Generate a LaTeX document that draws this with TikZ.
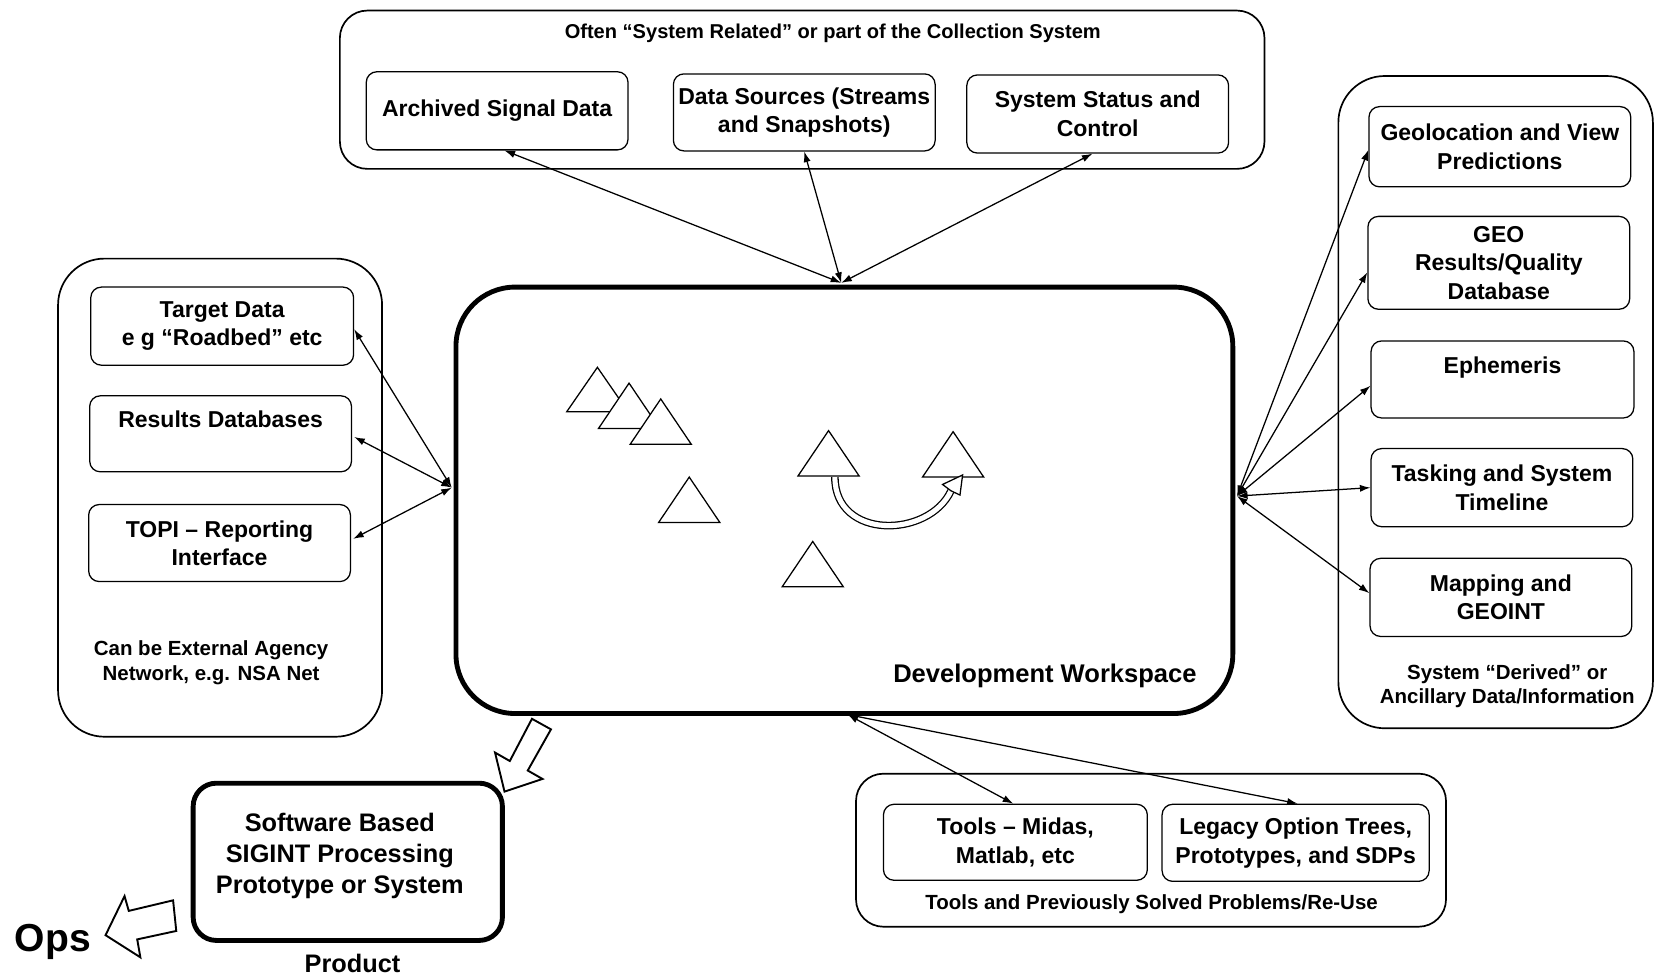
\documentclass[tikz,border=0pt]{standalone}
\usepackage{fontspec}
\setmainfont{Liberation Sans}
\usetikzlibrary{arrows.meta,calc}
\begin{document}
\begin{tikzpicture}[x=0.5pt,y=-0.5pt,
  obox/.style={draw, line width=0.8pt, rounded corners=20pt, inner sep=0pt},
  ibox/.style={draw, line width=0.6pt, rounded corners=5pt, inner sep=0pt, align=center,
     font=\fontsize{10.9}{13.5}\selectfont\bfseries},
  bigbox/.style={draw, line width=2.3pt, rounded corners=28pt, inner sep=0pt},
  capt/.style={align=center, inner sep=0pt, font=\fontsize{9.7}{11.5}\selectfont\bfseries},
  conn/.style={{Latex[length=5pt,width=3.4pt]}-{Latex[length=5pt,width=3.4pt]}, line width=0.6pt},
  tri/.style={draw, fill=white, line width=0.6pt},
  hollow/.style={draw, fill=white, line width=0.9pt, line join=miter},
]
\useasboundingbox (0,0) rectangle (1568,926);

% top group
\node[obox, rounded corners=13pt, minimum width=438pt, minimum height=75pt] (top) at (760,85) {};
\node[capt, font=\fontsize{9.5}{11}\selectfont\bfseries] (toptitle) at (789,32) {Often “System Related” or part of the Collection System};
\node[ibox, minimum width=124pt, minimum height=37pt] (arch) at (471,105) {Archived Signal Data};
\node[ibox, minimum width=124pt, minimum height=36.5pt] (dsrc) at (762,106.5) {Data Sources (Streams\\and Snapshots)};
\node[ibox, minimum width=124pt, minimum height=37pt] (sysst) at (1040,108) {System Status and\\Control};

% left group
\node[obox, rounded corners=22pt, minimum width=153.5pt, minimum height=226.5pt] (left) at (208.5,471.5) {};
\node[ibox, minimum width=124.5pt, minimum height=37pt] (target) at (210.5,309) {Target Data\\e g “Roadbed” etc};
\node[ibox, minimum width=124pt, minimum height=36pt] (results) at (209,411) {Results Databases\\\mbox{}};
\node[ibox, minimum width=124pt, minimum height=36.5pt] (topi) at (208,514.5) {TOPI – Reporting\\Interface};
\node[capt] (leftcap) at (200,628) {Can be External Agency\\Network, e.g. NSA Net};

% center
\node[bigbox, minimum width=368pt, minimum height=202pt] (ws) at (800,474) {};
\node[inner sep=0pt, font=\fontsize{12.1}{14}\selectfont\bfseries] (wslabel) at (990,640) {Development Workspace};

% right group
\node[obox, rounded corners=22pt, minimum width=149pt, minimum height=309pt] (right) at (1417,381) {};
\node[ibox, minimum width=124pt, minimum height=38pt] (geoloc) at (1421,139) {Geolocation and View\\Predictions};
\node[ibox, minimum width=124pt, minimum height=44pt] (geo) at (1420,249) {GEO\\Results/Quality\\Database};
\node[ibox, minimum width=124.5pt, minimum height=36.5pt] (ephem) at (1423.5,359.5) {Ephemeris\\\mbox{}};
\node[ibox, minimum width=124pt, minimum height=37pt] (task) at (1423,462) {Tasking and System\\Timeline};
\node[ibox, minimum width=124pt, minimum height=37pt] (mapping) at (1422,566) {Mapping and\\GEOINT};
\node[capt] (rightcap) at (1428,650) {System “Derived” or\\Ancillary Data/Information};

% bottom group
\node[obox, rounded corners=13pt, minimum width=279.5pt, minimum height=72.5pt] (bottom) at (1090.5,805.5) {};
\node[ibox, minimum width=125pt, minimum height=36pt] (tools) at (962,798) {Tools – Midas,\\Matlab, etc};
\node[ibox, minimum width=126.5pt, minimum height=36.5pt] (legacy) at (1227.5,798.5) {Legacy Option Trees,\\Prototypes, and SDPs};
\node[capt] (bottomcap) at (1091,857) {Tools and Previously Solved Problems/Re-Use};

% product
\node[draw, line width=2.3pt, rounded corners=11pt, inner sep=0pt, minimum width=146.5pt, minimum height=74.5pt] (sw) at (329.5,816.5) {};
\node[inner sep=0pt, align=center, font=\fontsize{12}{14.75}\selectfont\bfseries] (swtext) at (322,811) {Software Based\\SIGINT Processing\\Prototype or System};
\node[inner sep=0pt, font=\fontsize{12}{14}\selectfont\bfseries] (product) at (334,913) {Product};
\node[inner sep=0pt, font=\fontsize{18.5}{20}\selectfont\bfseries] (ops) at (50,892) {Ops};

% hubs
\coordinate (ht) at (797,268);
\coordinate (hl) at (428,462);
\coordinate (hr) at (1172,470);
\coordinate (hb) at (803,677);

\draw[conn] (ht) -- ($(arch.south)+(7,0)$);
\draw[conn] (ht) -- (dsrc.south);
\draw[conn] (ht) -- ($(sysst.south)+(-5,0)$);

\draw[conn] (hl) -- ($(target.east)+(0,3)$);
\draw[conn] (hl) -- ($(results.east)+(2,3)$);
\draw[conn] (hl) -- ($(topi.east)+(2,-4)$);

\draw[conn] (hr) -- ($(geoloc.west)+(0,3)$);
\draw[conn] (hr) -- ($(geo.west)+(0,9)$);
\draw[conn] (hr) -- ($(ephem.west)+(0,6)$);
\draw[conn] (hr) -- (task.west);
\draw[conn] (hr) -- ($(mapping.west)+(0,-4)$);

\draw[conn] (hb) -- ($(tools.north)+(-2,0)$);
\draw[conn] (hb) -- ($(legacy.north)+(2,0)$);

% triangles
\draw[tri] (566,348) -- (595,390) -- (537,390) -- cycle;
\draw[tri] (596,363) -- (625,406) -- (567,406) -- cycle;
\draw[tri] (626,378) -- (655,421) -- (597,421) -- cycle;
\draw[tri] (653,452) -- (682,495) -- (624,495) -- cycle;
\draw[tri] (785,408) -- (814,451) -- (756,451) -- cycle;
\draw[tri] (903,409) -- (932,452) -- (874,452) -- cycle;
\draw[tri] (770,513) -- (799,556) -- (741,556) -- cycle;

% curved hollow arrow
\draw[line width=0.6pt, double=white, double distance=2.4pt] (791,452) .. controls (791,512) and (880,510) .. (901,465);
\draw[hollow, line width=0.6pt] (912,450) -- (909.5,469) -- (901,465) -- (893,459) -- cycle;

% hollow block arrows
\draw[hollow] (504,681) -- (522,691) -- (500,730) -- (514,738) -- (478,750) -- (469,713) -- (483,721) -- cycle;
\draw[hollow] (164,853) -- (167,882) -- (130,890) -- (133,907) -- (100,886) -- (118,849) -- (122,863) -- cycle;
\end{tikzpicture}
\end{document}
